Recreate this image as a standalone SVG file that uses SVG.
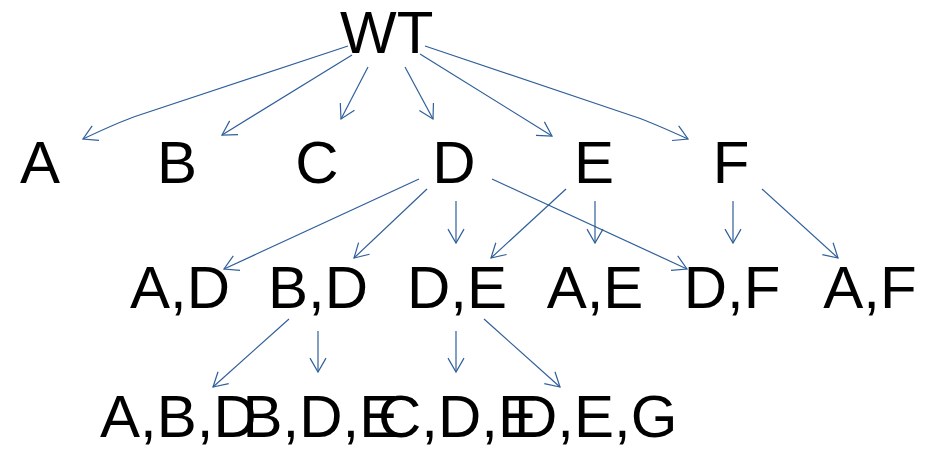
<svg xmlns="http://www.w3.org/2000/svg" width="939" height="451" viewBox="0 0 939 451">
<style>
.lbl{font-family:"Liberation Sans",Arial,sans-serif;font-size:60px;fill:#000;text-anchor:middle}
.edge{fill:none;stroke:#2f5f9a;stroke-width:1.2;marker-end:url(#arr)}
</style>
<defs>
<marker id="arr" markerUnits="userSpaceOnUse" viewBox="-16 -10 20 20" markerWidth="20" markerHeight="20" refX="0" refY="0" orient="auto">
<path d="M-13.9,-8 L0,0 L-13.9,8" fill="none" stroke="#2f5f9a" stroke-width="1.2"/>
</marker>
</defs>
<rect width="939" height="451" fill="#fff"/>
<g id="connectors">
<path class="edge" d="M348,46 L135,116.5 Q118,122.5 83,139"/>
<path class="edge" d="M352,55 L222,135"/>
<path class="edge" d="M368,67 L341,119"/>
<path class="edge" d="M405,67 L433,119"/>
<path class="edge" d="M420,54 L552,136"/>
<path class="edge" d="M425,46 L635,116.7 Q652,122.5 688,139"/>
<path class="edge" d="M419,179 L224,269"/>
<path class="edge" d="M427,189 L354,258"/>
<path class="edge" d="M456,201 L456,243"/>
<path class="edge" d="M492,179 L687,269"/>
<path class="edge" d="M566,189 L491,258"/>
<path class="edge" d="M595,201 L595,243"/>
<path class="edge" d="M733,201 L733,243"/>
<path class="edge" d="M762,189 L838,258"/>
<path class="edge" d="M289,319 L213,387"/>
<path class="edge" d="M318,331 L318,372"/>
<path class="edge" d="M456,331 L456,372"/>
<path class="edge" d="M484,319 L560,387"/>
</g>
<g id="node-WT"><text class="lbl" x="386.7" y="53">WT</text></g>
<g id="node-A"><text class="lbl" x="40" y="183">A</text></g>
<g id="node-B"><text class="lbl" x="177" y="183">B</text></g>
<g id="node-C"><text class="lbl" x="317" y="183">C</text></g>
<g id="node-D"><text class="lbl" x="454" y="183">D</text></g>
<g id="node-E"><text class="lbl" x="594" y="183">E</text></g>
<g id="node-F"><text class="lbl" x="731" y="183">F</text></g>
<g id="node-AD"><text class="lbl" x="180" y="308">A,D</text></g>
<g id="node-BD"><text class="lbl" x="318" y="308">B,D</text></g>
<g id="node-DE"><text class="lbl" x="457" y="308">D,E</text></g>
<g id="node-AE"><text class="lbl" x="595" y="308">A,E</text></g>
<g id="node-DF"><text class="lbl" x="732" y="308">D,F</text></g>
<g id="node-AF"><text class="lbl" x="870" y="308">A,F</text></g>
<g id="node-ABD"><text class="lbl" x="178.4" y="437">A,B,D</text></g>
<g id="node-BDE"><text class="lbl" x="320.9" y="437">B,D,E</text></g>
<g id="node-CDE"><text class="lbl" x="457.9" y="437">C,D,E</text></g>
<g id="node-DEG"><text class="lbl" x="595.7" y="437">D,E,G</text></g>
</svg>
